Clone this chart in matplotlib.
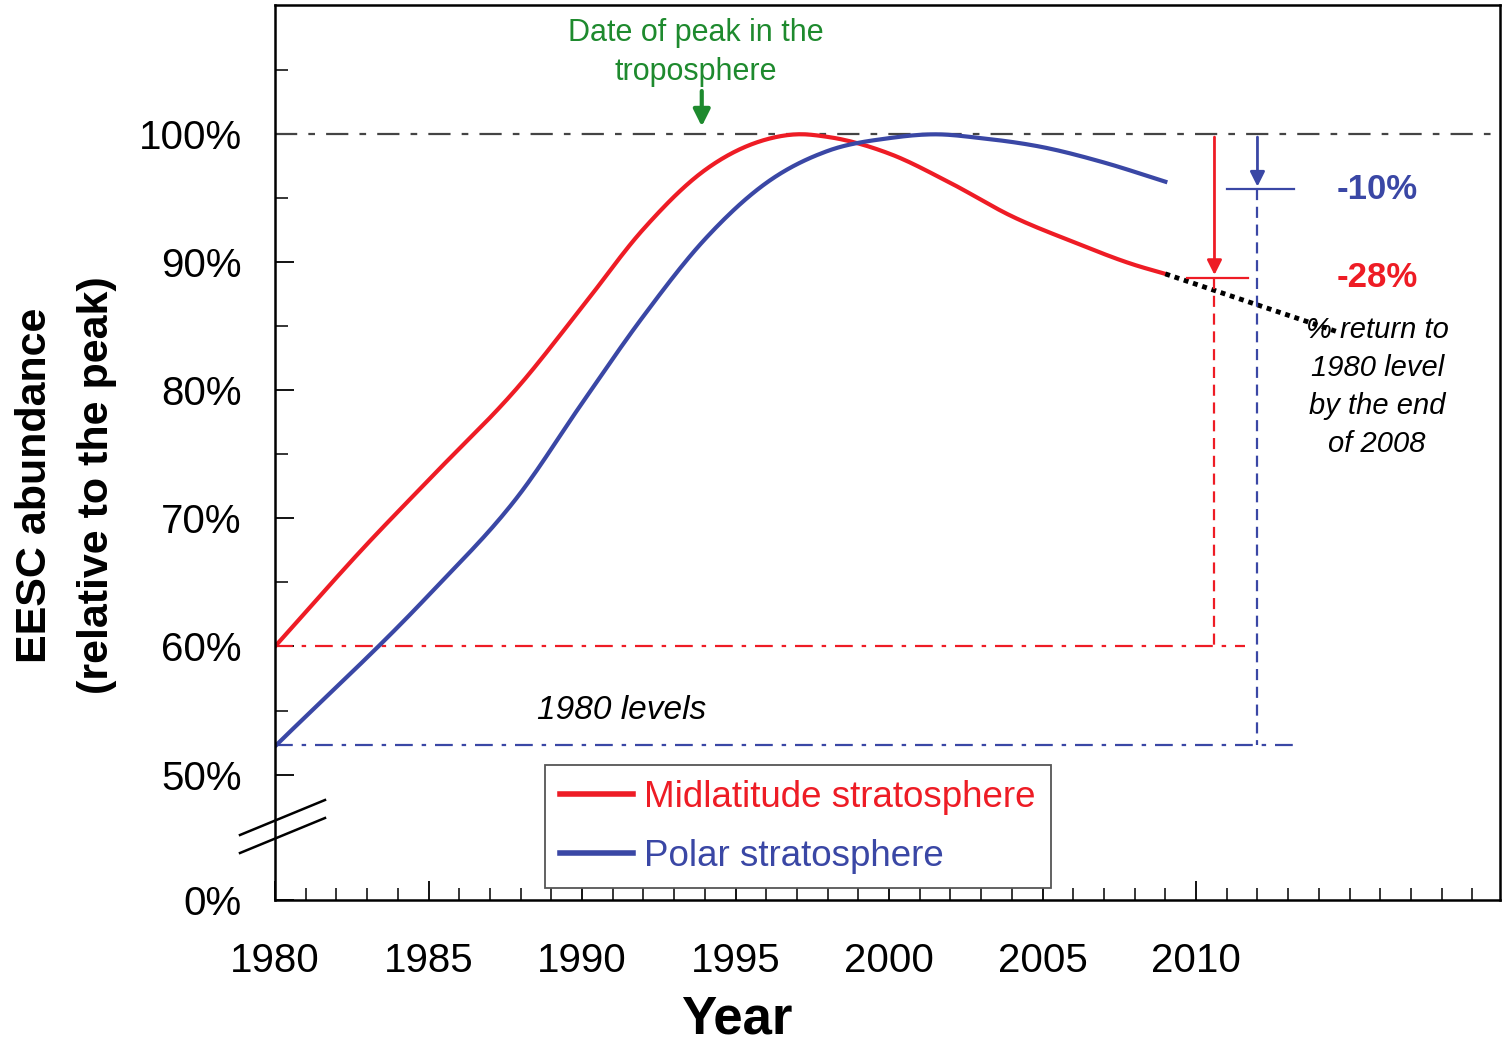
import matplotlib
matplotlib.use("Agg")
import matplotlib.pyplot as plt
import numpy as np

plt.rcParams['font.family'] = ['Liberation Sans', 'DejaVu Sans']

## Data (percent of peak)
mid_years = [1980, 1983, 1985, 1988, 1990, 1992, 1994, 1996, 1997, 1998, 2000, 2002, 2004, 2006, 2008, 2009]
mid_vals = [60, 68, 73, 80.5, 86.5, 92.6, 97.2, 99.6, 100, 99.8, 98.5, 96.2, 93.6, 91.6, 89.8, 89.1]
pol_years = [1980, 1985, 1988, 1990, 1992, 1994, 1996, 1998, 2000, 2001.5, 2003, 2005, 2007, 2009]
pol_vals = [52.2, 64, 72, 79, 85.8, 91.8, 96.2, 98.7, 99.7, 100, 99.7, 99.0, 97.8, 96.3]
ext_years = [2009, 2014.7]
ext_vals = [89.1, 84.5]
mid_loss, pol_loss = 28, 10

ZERO = 40.2  # plot position of 0% (broken axis)

def smooth(x, y, n=300):
    x = np.asarray(x, float); y = np.asarray(y, float)
    xs = np.linspace(x[0], x[-1], n)
    m = np.gradient(y, x)
    out = []
    for xv in xs:
        i = max(min(np.searchsorted(x, xv) - 1, len(x) - 2), 0)
        h = x[i+1] - x[i]; t = (xv - x[i]) / h
        h00 = 2*t**3 - 3*t**2 + 1; h10 = t**3 - 2*t**2 + t
        h01 = -2*t**3 + 3*t**2; h11 = t**3 - t**2
        out.append(h00*y[i] + h10*h*m[i] + h01*y[i+1] + h11*h*m[i+1])
    return xs, np.array(out)

RED = '#ee1c25'
BLUE = '#3a47a5'
GREEN = '#1e8a2e'

fig = plt.figure(figsize=(15.04, 10.44), dpi=100)
ax = fig.add_axes([275/1504, 1-900/1044, 1225/1504, 895/1044])
ax.set_xlim(1980, 2019.9)
ax.set_ylim(ZERO, 110.1)

dd = (0, (8, 4, 2, 4))
ax.axhline(100, color='#444444', lw=1.6, ls=(0, (10, 5, 3, 5)))
ax.plot([1980, 2011.6], [60, 60], color=RED, lw=1.6, ls=dd)
ax.plot([1980, 2013.3], [52.3, 52.3], color=BLUE, lw=1.6, ls=dd)

xs, ys = smooth(mid_years, mid_vals)
ax.plot(xs, ys, color=RED, lw=3)
xs, ys = smooth(pol_years, pol_vals)
ax.plot(xs, ys, color=BLUE, lw=3)
ax.plot(ext_years, ext_vals, color='black', lw=3.5, ls=(0, (1, 1)))

# loss markers
ax.annotate('', xy=(2010.6, 100 - mid_loss * 0.4), xytext=(2010.6, 100),
            arrowprops=dict(arrowstyle='-|>', color=RED, lw=2, mutation_scale=22))
ax.plot([2009.7, 2011.7], [88.8, 88.8], color=RED, lw=1.6)
ax.plot([2010.6, 2010.6], [88.8, 60], color=RED, lw=1.6, ls=(0, (5, 3)))
ax.annotate('', xy=(2012.0, 95.7), xytext=(2012.0, 100),
            arrowprops=dict(arrowstyle='-|>', color=BLUE, lw=2, mutation_scale=22))
ax.plot([2011.0, 2013.2], [95.7, 95.7], color=BLUE, lw=1.6)
ax.plot([2012.0, 2012.0], [95.7, 52.3], color=BLUE, lw=1.6, ls=(0, (5, 3)))

ax.text(2015.9, 95.7, f'-{pol_loss}%', color=BLUE, fontsize=25, fontweight='bold', ha='center', va='center')
ax.text(2015.9, 88.8, f'-{mid_loss}%', color=RED, fontsize=25, fontweight='bold', ha='center', va='center')
ax.text(2015.9, 85.8, '% return to\n1980 level\nby the end\nof 2008', fontsize=21, style='italic',
        ha='center', va='top', linespacing=1.45)
ax.text(1991.3, 55.0, '1980 levels', fontsize=24, style='italic', ha='center', va='center')

ax.text(1993.7, 106.4, 'Date of peak in the\ntroposphere', color=GREEN, fontsize=22, ha='center', va='center',
        linespacing=1.4)
ax.annotate('', xy=(1993.9, 100.4), xytext=(1993.9, 103.6),
            arrowprops=dict(arrowstyle='-|>', color=GREEN, lw=3, mutation_scale=25))

# legend
leg = ax.legend([plt.Line2D([], [], color=RED, lw=4), plt.Line2D([], [], color=BLUE, lw=4)],
                ['Midlatitude stratosphere', 'Polar stratosphere'],
                loc='upper left', bbox_to_anchor=(270/1225, 135/895), borderaxespad=0,
                fontsize=26.5, frameon=True, framealpha=1,
                fancybox=False, edgecolor='#555555', handlelength=2.0, handletextpad=0.3,
                borderpad=0.4, labelspacing=0.65)
leg.get_frame().set_linewidth(1.3)
for t, c in zip(leg.get_texts(), [RED, BLUE]):
    t.set_color(c)

# axes styling
ax.set_xticks(range(1980, 2011, 5))
ax.set_xticks(range(1980, 2020), minor=True)
ax.set_yticks([ZERO, 50, 60, 70, 80, 90, 100])
ax.set_yticklabels(['0%', '50%', '60%', '70%', '80%', '90%', '100%'])
ax.set_yticks([55, 65, 75, 85, 95, 105], minor=True)
ax.tick_params(axis='both', which='both', direction='in', labelsize=29)
ax.tick_params(axis='x', which='major', pad=30)
ax.tick_params(axis='y', which='major', pad=24)
ax.tick_params(axis='both', which='major', length=14, width=1.3)
ax.tick_params(axis='both', which='minor', length=9, width=1.1)
for s in ax.spines.values():
    s.set_linewidth(1.8)

fig.text(737/1504, 1-1020/1044, 'Year', fontsize=38, fontweight='bold', ha='center', va='center')
fig.text(35/1504, 1-485/1044, 'EESC abundance', fontsize=31, fontweight='bold', rotation=90,
         ha='center', va='center')
fig.text(97/1504, 1-485/1044, '(relative to the peak)', fontsize=31, fontweight='bold', rotation=90,
         ha='center', va='center')

# axis break marks
for dy in (0, 18):
    fig.add_artist(plt.Line2D([240/1504, 325/1504], [1-(835+dy)/1044, 1-(800+dy)/1044],
                              color='black', lw=1.8))

fig.savefig('out.png', dpi=100)
